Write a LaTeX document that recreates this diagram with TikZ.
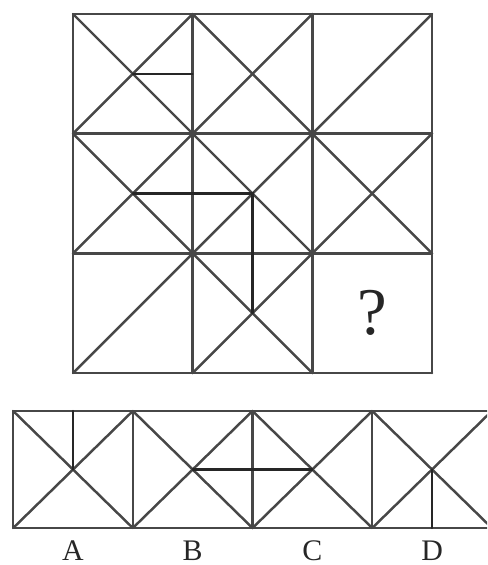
\documentclass[tikz,border=0pt]{standalone}
\usepackage{fontspec}
\setmainfont{Liberation Serif}
\begin{document}
\begin{tikzpicture}[
x=2.3934cm, y=-2.3934cm, % one cell = one unit, rows go down
every node/.style={inner sep=0pt},
line/.style={draw=black!72, line width=1.4pt, line cap=round, line join=round},
extra/.style={draw=black!85, line width=1.2pt, line cap=round},
lbl/.style={font=\fontsize{17}{17}\selectfont, text=black!85},
qlbl/.style={font=\fontsize{38}{38}\selectfont, text=black!85}
]
\useasboundingbox (-0.61,-0.117) rectangle (3.4595,4.604);
\clip (-0.61,-0.117) rectangle (3.4595,4.604);

% --- Main 3x3 grid ---
\foreach \v in {0,1,2,3} {
  \draw[line] (\v,0) -- (\v,3);
  \draw[line] (0,\v) -- (3,\v);
}

% cells with both diagonals (column/row)
\foreach \c/\r in {0/0, 1/0, 0/1, 1/1, 2/1, 1/2} {
  \draw[line] (\c,\r) -- (\c+1,\r+1);
  \draw[line] (\c,\r+1) -- (\c+1,\r);
}

% cells with one diagonal
\draw[line] (2,1) -- (3,0);
\draw[line] (0,3) -- (1,2);

% short strokes inside the grid
\draw[extra] (0.5,0.5) -- (1,0.5);
\draw[extra] (0.5,1.5) -- (1.5,1.5) -- (1.5,2.5);

% missing cell
\node[qlbl] (qmark) at (2.5,2.5) {?};

% --- Answer strip A-D ---
\coordinate (stripTL) at (-0.5,3.317);
\coordinate (stripBR) at (3.5,4.295);
\draw[line] (stripTL) rectangle (stripBR);
\foreach \c in {-0.5,0.5,1.5,2.5} {
  \draw[line] (\c,3.317) -- (\c,4.295);
  \draw[line] (\c,3.317) -- (\c+1,4.295);
  \draw[line] (\c,4.295) -- (\c+1,3.317);
}

% short strokes inside the options
\draw[extra] (0,3.317) -- (0,3.806);
\draw[extra] (1,3.806) -- (2,3.806);
\draw[extra] (3,3.806) -- (3,4.295);

% labels under the options
\foreach \x/\t in {0/A, 1/B, 2/C, 3/D}
  \node[lbl] (lbl\t) at (\x,4.487) {\t};

\end{tikzpicture}
\end{document}
